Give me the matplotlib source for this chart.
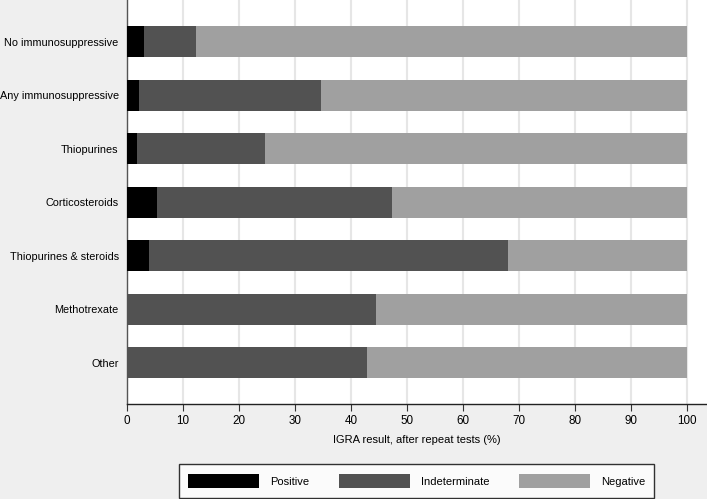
import matplotlib
matplotlib.use("Agg")
import matplotlib.pyplot as plt
import numpy as np

plt.rcParams['font.family'] = ['Liberation Sans', 'DejaVu Sans']

categories = ["No immunosuppressive", "Any immunosuppressive", "Thiopurines",
              "Corticosteroids", "Thiopurines & steroids", "Methotrexate", "Other"]
positive = [3.1, 2.2, 1.7, 5.3, 4.0, 0.0, 0.0]
indeterminate = [9.2, 32.5, 23.0, 42.1, 64.1, 44.5, 42.9]
negative = [100 - p - i for p, i in zip(positive, indeterminate)]
series_names = ["Positive", "Indeterminate", "Negative"]
colors = ["#000000", "#525252", "#a0a0a0"]
xticks = list(range(0, 101, 10))

FS = 8.0

fig = plt.figure(figsize=(7.07, 4.99), dpi=100)
fig.patch.set_facecolor("#efefef")
ax = fig.add_axes([127/707, 95/499, 1 - 127/707, 1 - 95/499])
ax.set_facecolor("white")

y = np.arange(len(categories))
left = np.zeros(len(categories))
for vals, name, c in zip([positive, indeterminate, negative], series_names, colors):
    ax.barh(y, vals, left=left, height=0.58, color=c, label=name, zorder=3)
    left = left + np.array(vals)

ax.set_ylim(len(categories) - 1 + 0.77, -0.78)
ax.set_xlim(0, 103.6)
ax.set_yticks(y)
ax.set_yticklabels(categories, fontsize=7.8)
ax.tick_params(axis='y', length=0, pad=6)
ax.set_xticks(xticks)
ax.set_xticklabels([str(t) for t in xticks], fontsize=FS + 0.4)
ax.tick_params(axis='x', length=5, width=0.8, color="#333333", pad=3)
ax.xaxis.grid(True, color="#e6e6e6", linewidth=1.5, zorder=0)
ax.set_axisbelow(True)
for s in ["top", "right"]:
    ax.spines[s].set_visible(False)
ax.spines["left"].set_color("#555555")
ax.spines["bottom"].set_color("#222222")
ax.spines["left"].set_linewidth(1.0)
ax.spines["bottom"].set_linewidth(1.0)
ax.set_xlabel("IGRA result, after repeat tests (%)", fontsize=FS, labelpad=6)

handles, labels = ax.get_legend_handles_labels()
leg = fig.legend(handles, labels, loc="center", bbox_to_anchor=(416.5/707, 1 - 481/499),
                 ncol=3, fontsize=FS, frameon=True, fancybox=False,
                 handlelength=6.4, handleheight=1.62, handletextpad=0.95,
                 columnspacing=2.7, borderpad=0.85, edgecolor="black")
leg.get_frame().set_linewidth(1.0)
leg.get_frame().set_facecolor("white")

fig.savefig("out.png", dpi=100, facecolor=fig.get_facecolor())
